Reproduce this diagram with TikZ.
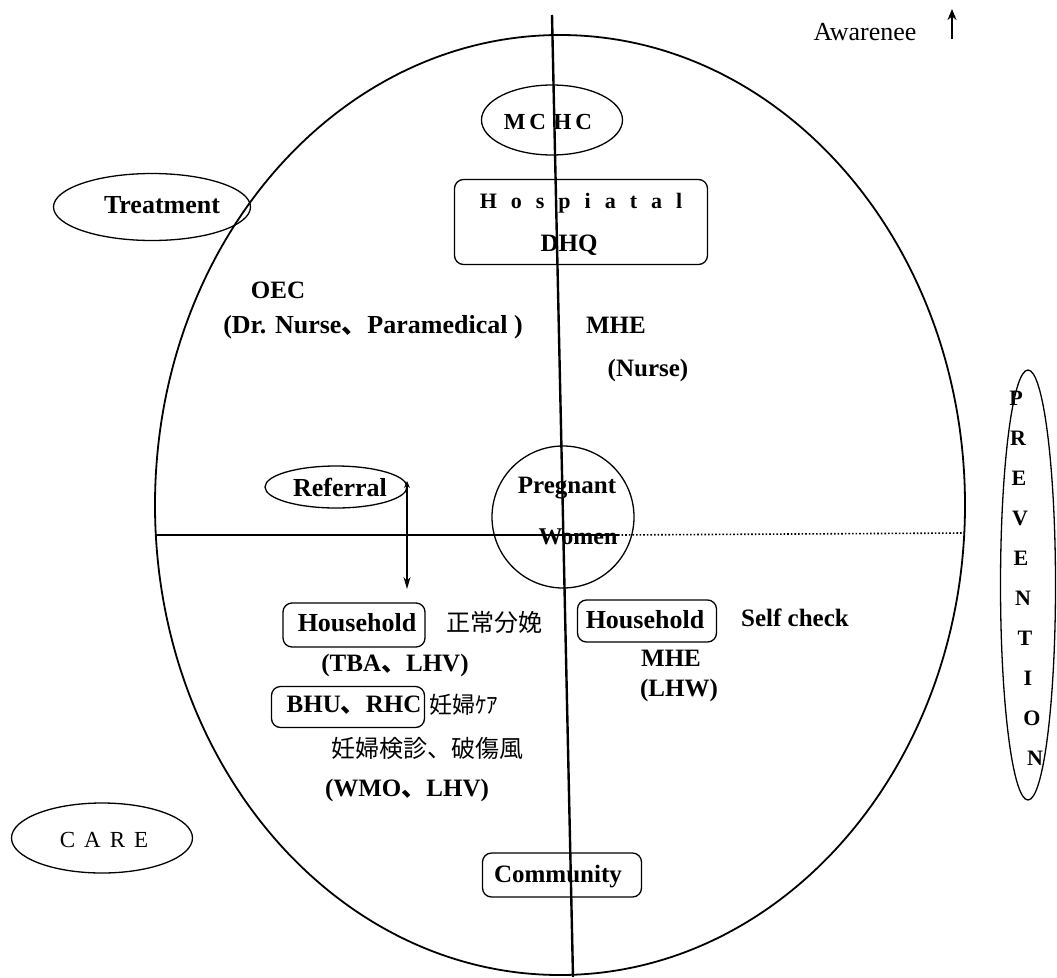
\documentclass[tikz,border=0pt]{standalone}
\usepackage{fontspec}
\setmainfont{Liberation Serif}
\newfontfamily\jp{Noto Sans CJK JP}
\usetikzlibrary{shapes.geometric,arrows.meta}
\newcommand\myfs[1]{\fontsize{#1}{#1}\selectfont}
\tikzset{
  oval/.style={ellipse, draw, line width=1.3pt, inner sep=0pt},
  rbox/.style={draw, rounded corners=9pt, line width=1.3pt, inner sep=0pt},
  lbl/.style={inner sep=0pt},
  axis/.style={line width=2.4pt},
}
\begin{document}
\begin{tikzpicture}[x=1pt,y=-1pt,font=\myfs{25}\bfseries]
\useasboundingbox (0,0) rectangle (1057,977);
% big ellipse
\node[oval, minimum width=810, minimum height=940, line width=1.8pt] (big) at (560,505) {};
% axes
\coordinate (vtop) at (552,15);
\coordinate (vbot) at (573,977);
\coordinate (hl) at (156,535);
\coordinate (hm) at (618,535);
\coordinate (hr) at (964,533);
\draw[line width=1.6pt] (hl) -- (hm);
\draw[line width=1.6pt, dotted] (hm) -- (hr);
% awareness
\node[lbl, font=\myfs{26}] (aw) at (865,32) {Awarenee};
\coordinate (aw1) at (952,39);
\coordinate (aw2) at (952,9);
\draw[line width=2.6pt, -{Stealth[length=11pt,width=9pt]}] (aw1) -- (aw2);
% top
\node[oval, minimum width=141, minimum height=70] (mchc) at (552,120) {};
\node[lbl, font=\myfs{23}\bfseries] (mchct) at (548,122) {M\,C\,\,H\,C};
\node[rbox, minimum width=253, minimum height=85] (hosp) at (581,222) {};
\node[lbl, font=\myfs{22}\bfseries] (hosptxt) at (581,203) {H\hspace{14pt}o\hspace{14pt}s\hspace{14pt}p\hspace{14pt}i\hspace{14pt}a\hspace{14pt}t\hspace{14pt}a\hspace{14pt}l};
\node[lbl] (dhq) at (569,245) {DHQ};
\draw[axis] (vtop) -- (vbot);
\node[oval, minimum width=197, minimum height=67] (treat) at (152,207) {};
\node[lbl, font=\myfs{26}\bfseries] (treatt) at (162,205) {Treatment};
\node[lbl] (oec) at (278,290) {OEC};
\node[lbl, font=\myfs{26}\bfseries] (drn) at (373,327) {(Dr. Nurse{\jp 、}Paramedical )};
\node[lbl] (mhe1) at (616,325) {MHE};
\node[lbl] (nurse) at (648,370) {(Nurse)};
% middle
\node[oval, minimum width=142, minimum height=42] (ref) at (336,487) {};
\node[lbl, font=\myfs{26}\bfseries] (reft) at (340,487) {Referral};
\node[circle, draw, line width=1.3pt, minimum size=142, inner sep=0pt] (preg) at (563,517) {};
\node[lbl] (pregt) at (567,488) {Pregnant};
\node[lbl, font=\myfs{24}\bfseries] (woment) at (578,537) {Women};
\coordinate (ra) at (407,481);
\coordinate (rb) at (407,589);
\draw[line width=1.6pt, {Stealth[length=7pt,width=6pt]}-{Stealth[length=12pt,width=7pt]}] (ra) -- (rb);
% lower left
\node[rbox, minimum width=142, minimum height=44] (hh1) at (354,625) {};
\node[lbl, font=\myfs{26}\bfseries] (hh1t) at (357,623) {Household};
\node[lbl, font=\jp\myfs{24}] (seijo) at (494,622) {正常分娩};
\node[lbl] (tba) at (395,665) {(TBA{\jp 、}LHV)};
\node[rbox, minimum width=153, minimum height=41] (bhu) at (348,707) {};
\node[lbl] (bhut) at (354,705) {BHU{\jp 、}RHC};
\node[lbl, anchor=west, font=\jp\myfs{23}] (ninpu) at (429,705) {妊婦ｹｱ};
\node[lbl, font=\jp\myfs{24}] (kenshin) at (427,748) {妊婦検診、破傷風};
\node[lbl] (wmo) at (407,790) {(WMO{\jp 、}LHV)};
% lower right
\node[rbox, minimum width=139, minimum height=42] (hh2) at (647,621) {};
\node[lbl, font=\myfs{26}\bfseries] (hh2t) at (645,620) {Household};
\node[lbl] (self) at (795,618) {Self check};
\node[lbl] (mhe2) at (671,658) {MHE};
\node[lbl] (lhw) at (679,690) {(LHW)};
% bottom
\node[oval, minimum width=181, minimum height=70] (care) at (102,838) {};
\node[lbl, font=\myfs{23}] (caret) at (104,840) {C\hspace{9pt}A\hspace{9pt}R\hspace{9pt}E};
\node[rbox, minimum width=159, minimum height=44] (comm) at (562,875) {};
\node[lbl] (commt) at (558,877) {Community};
% prevention
\node[oval, minimum width=55, minimum height=430] (prev) at (1028,585) {};
\foreach \l/\xx/\yy in {P/1016/398, R/1018/438, E/1019/478, V/1020/518, E/1021/558, N/1023/598, T/1025/638, I/1028/678, O/1032/718, N/1035/758}
  \node[lbl, font=\myfs{22}\bfseries] at (\xx,\yy) {\l};
\end{tikzpicture}
\end{document}
